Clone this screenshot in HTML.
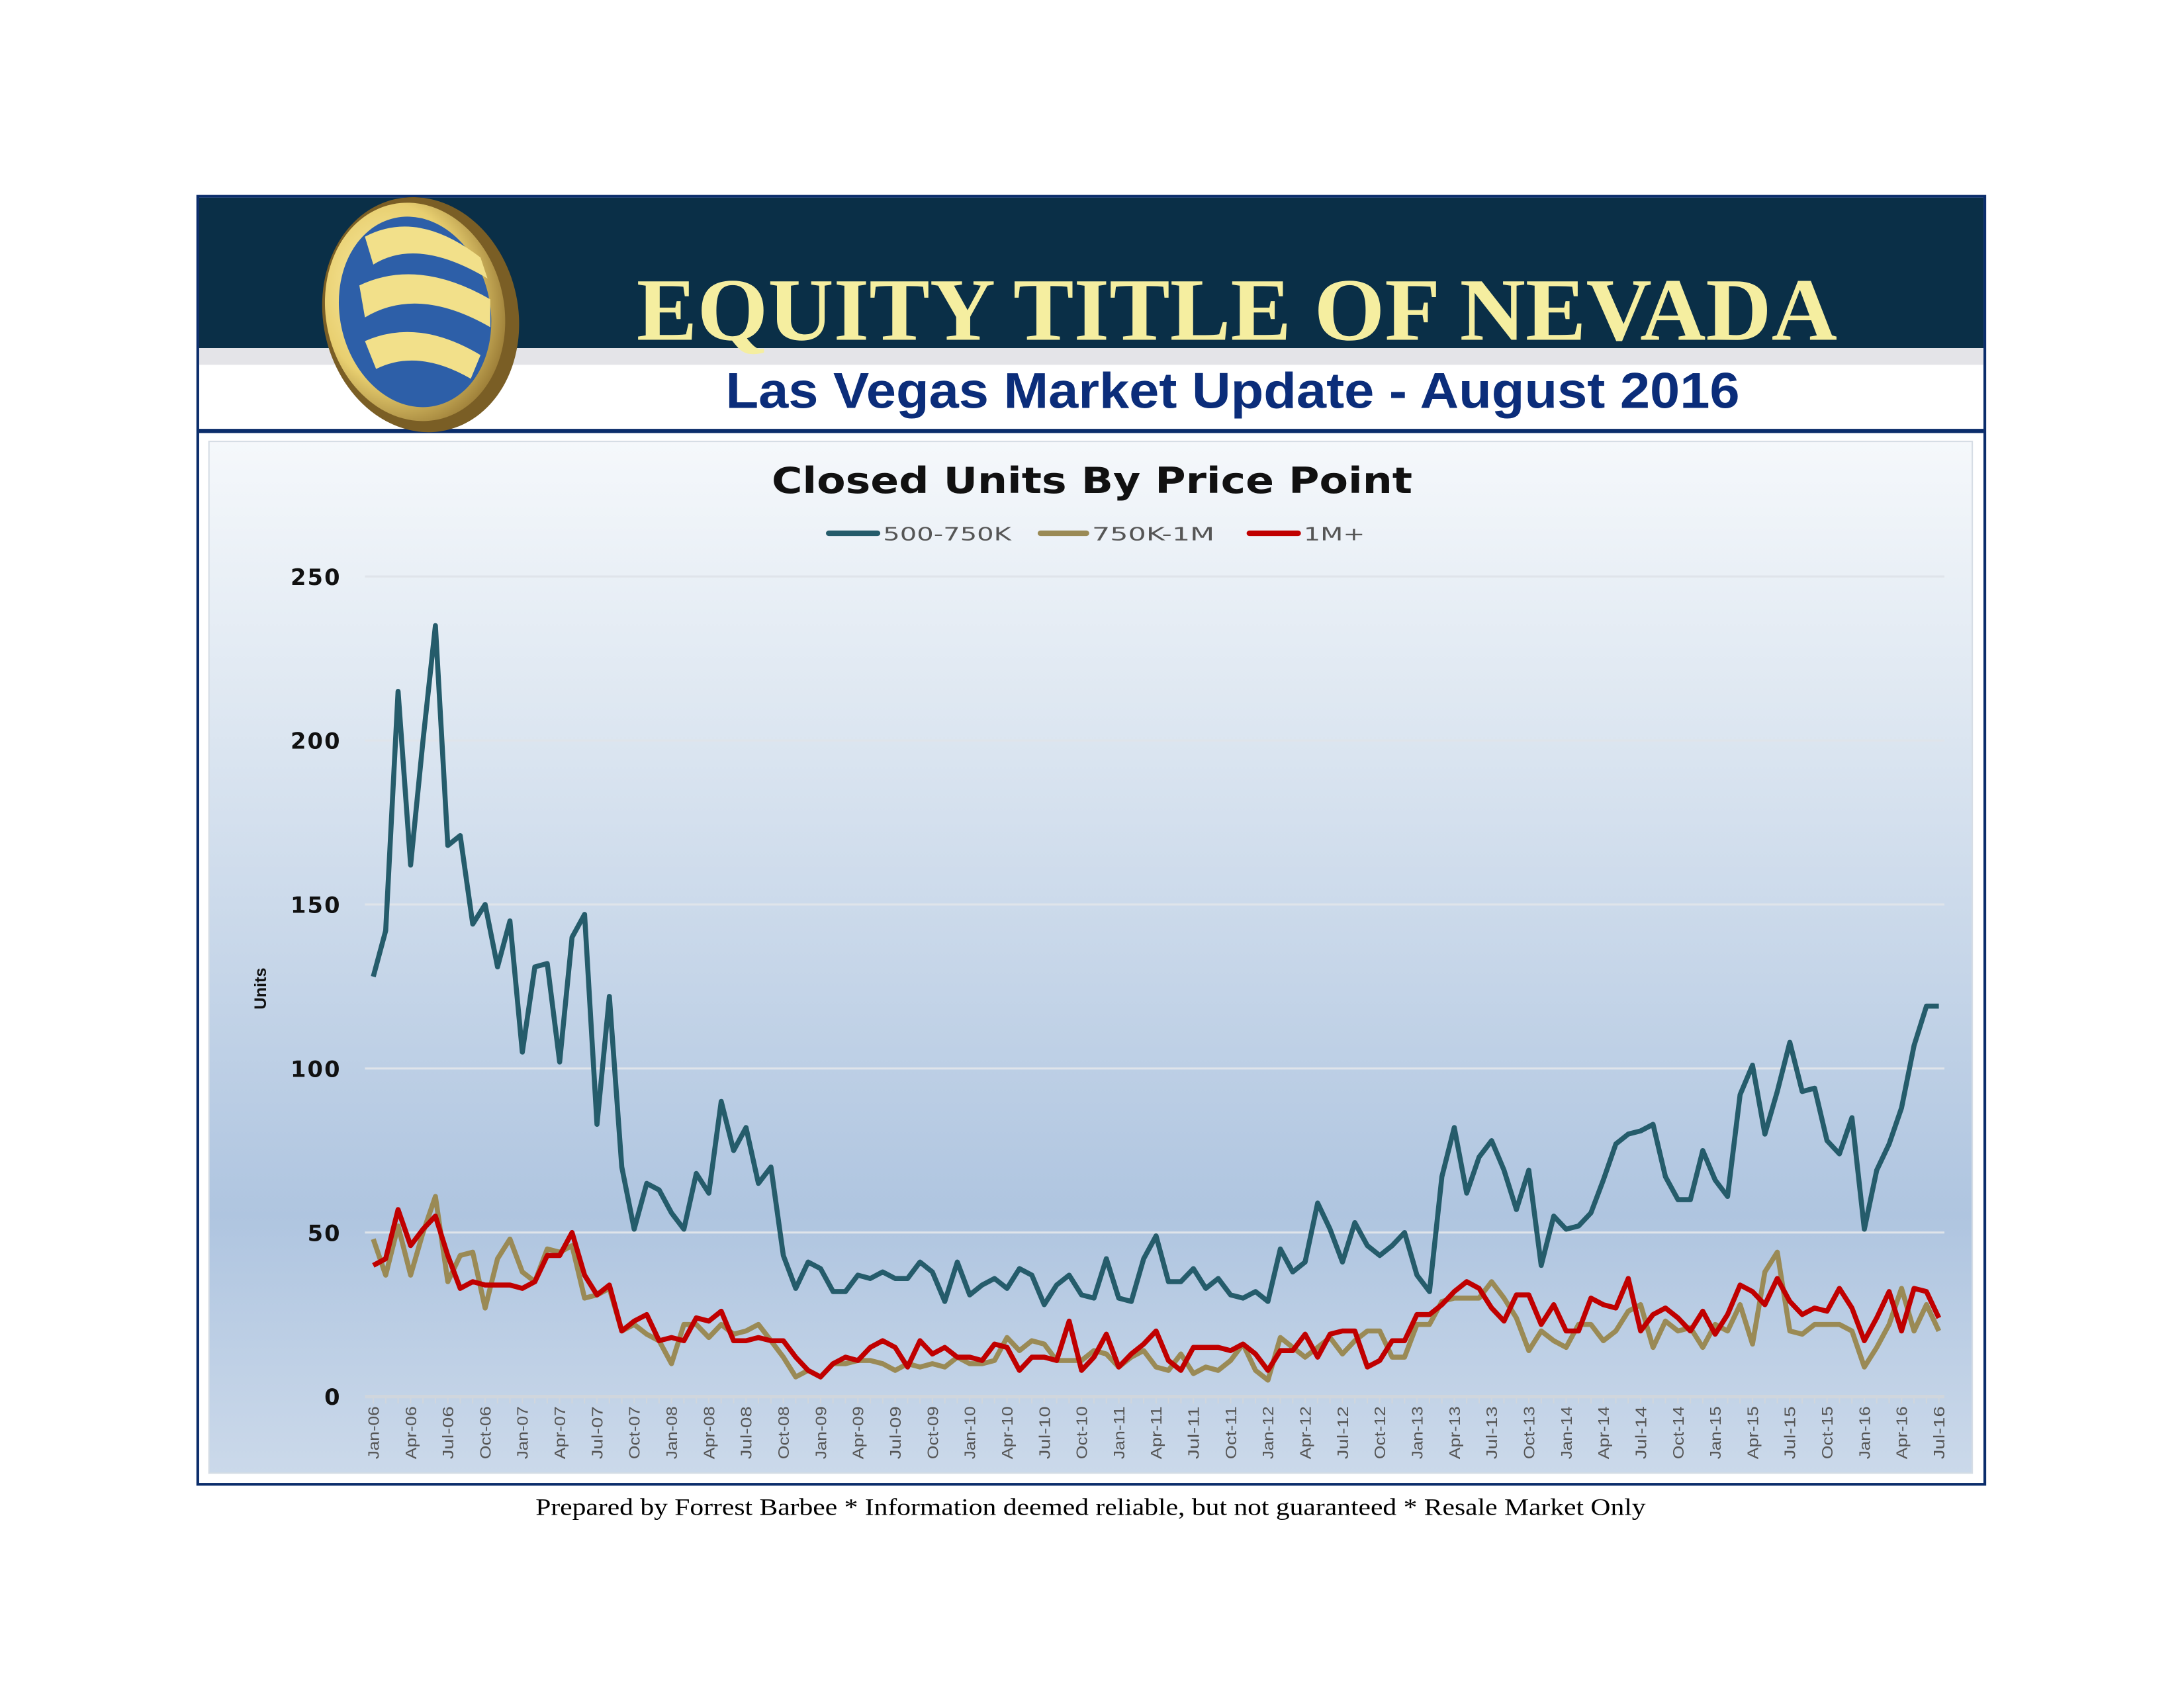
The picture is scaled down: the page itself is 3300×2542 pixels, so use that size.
<!DOCTYPE html>
<html><head><meta charset="utf-8"><style>
html,body{margin:0;padding:0;background:#fff;}
svg{display:block;}
</style></head><body>
<svg id="s" width="3300" height="2542" viewBox="0 0 1568 1208" preserveAspectRatio="none" xmlns="http://www.w3.org/2000/svg">
<defs>
<linearGradient id="bg" x1="0" y1="0" x2="0" y2="1">
<stop offset="0" stop-color="#f5f8fb"/>
<stop offset="0.25" stop-color="#dfe8f2"/>
<stop offset="0.75" stop-color="#afc5e0"/>
<stop offset="1" stop-color="#cbd9ea"/>
</linearGradient>
<radialGradient id="gold" cx="0.4" cy="0.4" r="0.7">
<stop offset="0" stop-color="#fff3b0"/>
<stop offset="0.6" stop-color="#e8cf70"/>
<stop offset="1" stop-color="#8a6a2a"/>
</radialGradient>
</defs>
<rect x="0" y="0" width="1568" height="1208" fill="#fff"/>
<rect x="142" y="141" width="1283" height="925" fill="#fff" stroke="#0b2d6b" stroke-width="2"/>
<rect x="143" y="142" width="1281" height="108" fill="#0a2f47"/>
<rect x="143" y="250" width="1281" height="12" fill="#e4e4e8"/>
<rect x="143" y="308" width="1281" height="3" fill="#0b2d6b"/>
<ellipse cx="302" cy="226" rx="70" ry="85" fill="#7a5e25" transform="rotate(-12 302 226)"/>
<ellipse cx="298" cy="224" rx="64" ry="79" fill="url(#gold)" transform="rotate(-12 298 224)"/>
<ellipse cx="298" cy="224" rx="54" ry="69" fill="#2d5fa8" transform="rotate(-12 298 224)"/>
<path d="M262 170 Q300 150 345 185 L350 200 Q300 170 268 190 Z" fill="#f2e08a"/>
<path d="M258 205 Q300 185 352 215 L352 235 Q300 205 262 228 Z" fill="#f2e08a"/>
<path d="M262 245 Q300 228 345 255 L338 272 Q300 250 270 265 Z" fill="#f2e08a"/>
<text x="888" y="244" text-anchor="middle" font-family="Liberation Serif, serif" font-weight="bold" font-size="64" fill="#f5eea0" textLength="862" lengthAdjust="spacingAndGlyphs">EQUITY TITLE OF NEVADA</text>
<text x="885" y="293" text-anchor="middle" font-family="Liberation Sans, sans-serif" font-weight="bold" font-size="36" fill="#0b2d7a" textLength="728" lengthAdjust="spacingAndGlyphs">Las Vegas Market Update - August 2016</text>
<rect x="150" y="317" width="1266" height="741" fill="url(#bg)" stroke="#d6dde5" stroke-width="1"/>
<text x="784" y="354" text-anchor="middle" font-family="DejaVu Sans, sans-serif" font-weight="bold" font-size="26" fill="#111" textLength="460" lengthAdjust="spacingAndGlyphs">Closed Units By Price Point</text>
<g font-family="DejaVu Sans, sans-serif" font-size="13" fill="#555">
<line x1="595" y1="383" x2="630" y2="383" stroke="#255c6b" stroke-width="4" stroke-linecap="round"/>
<text x="634" y="388" textLength="92" lengthAdjust="spacingAndGlyphs">500-750K</text>
<line x1="747" y1="383" x2="780" y2="383" stroke="#9a8a55" stroke-width="4" stroke-linecap="round"/>
<text x="784" y="388" textLength="88" lengthAdjust="spacingAndGlyphs">750K-1M</text>
<line x1="897" y1="383" x2="932" y2="383" stroke="#c00000" stroke-width="4" stroke-linecap="round"/>
<text x="936" y="388" textLength="44" lengthAdjust="spacingAndGlyphs">1M+</text>
</g>
<text transform="translate(191 710) rotate(-90)" text-anchor="middle" font-family="Liberation Sans, sans-serif" font-weight="bold" font-size="12" fill="#111">Units</text>
<g id="grid"></g>
<g id="series"></g>
<text x="783" y="1088" text-anchor="middle" font-family="Liberation Serif, serif" font-size="17" fill="#000" textLength="797" lengthAdjust="spacingAndGlyphs">Prepared by Forrest Barbee * Information deemed reliable, but not guaranteed * Resale Market Only</text>
</svg>
<script>
var NS="http://www.w3.org/2000/svg";
function el(t,a,txt){var e=document.createElementNS(NS,t);for(var k in a)e.setAttribute(k,a[k]);if(txt!=null)e.textContent=txt;return e;}
var x0=268,x1=1392,y0=1003,yu=(1003-414)/250;
var n=127,dx=(x1-x0)/(n-1);
function X(i){return x0+i*dx;}function Y(v){return y0-v*yu;}
var g=document.getElementById('grid');
for(var v=0;v<=250;v+=50){
 g.appendChild(el('line',{x1:262,x2:1396,y1:Y(v),y2:Y(v),stroke:v==0?'#d0d6dd':'#dfe4ea','stroke-width':v==0?2.5:1.5}));
 g.appendChild(el('text',{x:245,y:Y(v)+6,'text-anchor':'end','font-family':'DejaVu Sans, sans-serif','font-weight':'bold','font-size':16,fill:'#111','letter-spacing':'1'},String(v)));
}
var mn=['Jan','Apr','Jul','Oct'];
for(var i=0;i<n;i++){
 g.appendChild(el('line',{x1:X(i),x2:X(i),y1:y0,y2:y0+5,stroke:'#d0d6dd','stroke-width':1}));
 if(i%3==0){var yr=6+Math.floor(i/12);var lab=mn[(i%12)/3]+'-'+(yr<10?'0'+yr:yr);
  g.appendChild(el('text',{transform:'translate('+(X(i)+4)+' 1048) rotate(-90)','font-family':'Liberation Sans, sans-serif','font-size':11,fill:'#555',textLength:38,lengthAdjust:'spacingAndGlyphs'},lab));}
}
var A=[128,142,215,162,200,235,168,171,144,150,131,145,105,131,132,102,140,147,83,122,70,51,65,63,56,51,68,62,90,75,82,65,70,43,33,41,39,32,32,37,36,38,36,36,41,38,29,41,31,34,36,33,39,37,28,34,37,31,30,42,30,29,42,49,35,35,39,33,36,31,30,32,29,45,38,41,59,51,41,53,46,43,46,50,37,32,67,82,62,73,78,69,57,69,40,55,51,52,56,66,77,80,81,83,67,60,60,75,66,61,92,101,80,93,108,93,94,78,74,85,51,69,77,88,107,119,119];
var B=[48,37,52,37,50,61,35,43,44,27,42,48,38,35,45,44,46,30,31,33,20,22,19,17,10,22,22,18,22,19,20,22,17,12,6,8,6,10,10,11,11,10,8,10,9,10,9,12,10,10,11,18,14,17,16,11,11,11,14,13,9,12,14,9,8,13,7,9,8,11,16,8,5,18,15,12,15,18,13,17,20,20,12,12,22,22,29,30,30,30,35,30,24,14,20,17,15,22,22,17,20,26,28,15,23,20,21,15,22,20,28,16,38,44,20,19,22,22,22,20,9,15,22,33,20,28,20];
var C=[40,42,57,46,51,55,43,33,35,34,34,34,33,35,43,43,50,37,31,34,20,23,25,17,18,17,24,23,26,17,17,18,17,17,12,8,6,10,12,11,15,17,15,9,17,13,15,12,12,11,16,15,8,12,12,11,23,8,12,19,9,13,16,20,11,8,15,15,15,14,16,13,8,14,14,19,12,19,20,20,9,11,17,17,25,25,28,32,35,33,27,23,31,31,22,28,20,20,30,28,27,36,20,25,27,24,20,26,19,25,34,32,28,36,29,25,27,26,33,27,17,24,32,20,33,32,24];
var s=document.getElementById('series');
[[B,'#9a8a55'],[C,'#c00000'],[A,'#255c6b']].forEach(function(p){
 var pts=p[0].map(function(v,i){return X(i).toFixed(1)+','+Y(v).toFixed(1);}).join(' ');
 s.appendChild(el('polyline',{points:pts,fill:'none',stroke:p[1],'stroke-width':3.6,'stroke-linejoin':'round'}));
});
</script>
</body></html>
